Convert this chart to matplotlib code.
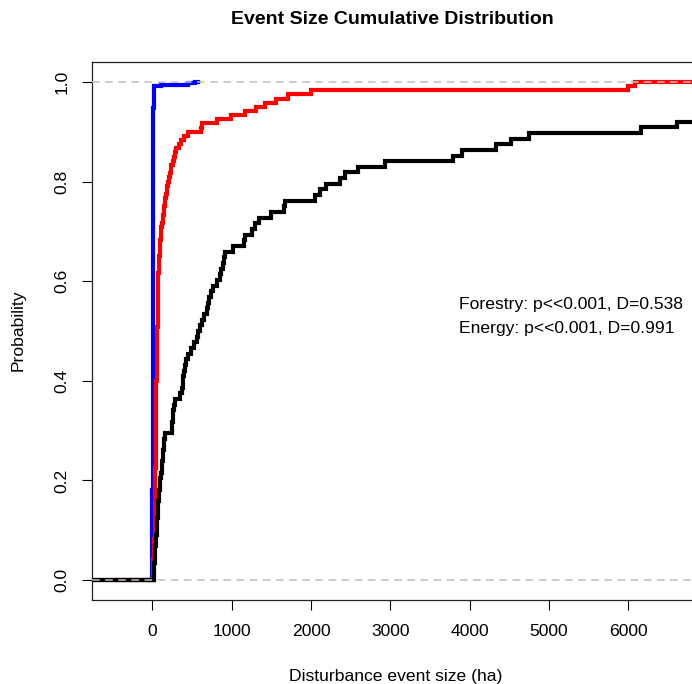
import numpy as np
import matplotlib
matplotlib.use("Agg")
import matplotlib.pyplot as plt

# ---------------- data (event sizes, ha) ----------------
# reference (natural) disturbance events
natural_sizes = [18, 20, 24, 28, 33, 38, 44, 50, 55, 60,
                 64, 68, 72, 77, 82, 88, 95, 102, 110,
                 117, 124, 131, 138, 145, 152, 158,
                 245, 252, 258, 265, 275, 285, 345, 370,
                 380, 390, 400, 410, 430, 455, 490, 530, 560, 580,
                 600, 625, 650, 690, 705, 720, 740, 770, 820, 850,
                 870, 890, 905, 915, 1015, 1150, 1165, 1250, 1300, 1345,
                 1500, 1660, 1675, 2047, 2110, 2194, 2362, 2425, 2594, 2930,
                 3792, 3909, 4338, 4518, 4750, 6154, 6612,
                 7400, 8100, 9300, 11000, 14500, 21000, 38000]

# forestry events
forestry_sizes = [2, 4, 6, 8,
                  12, 15, 18, 20, 22, 25,
                  27, 28, 29, 30, 31, 32, 33, 34, 35, 35, 36, 37, 37, 38,
                  38, 39, 39, 40, 40, 41, 41, 41, 42, 42, 42, 43,
                  44, 45, 46, 47, 48, 48, 49, 50, 50, 51, 51, 52,
                  53, 54, 55, 56, 57, 58, 59, 60, 61, 62, 63,
                  64, 64, 65, 65, 66, 66, 67, 67, 68, 69, 69, 70, 71,
                  74, 77, 80, 83, 85, 88, 90, 92,
                  96, 100, 104, 108, 113,
                  120, 128, 135, 142, 150, 156,
                  165, 172, 180, 190, 198,
                  210, 222, 235, 240,
                  255, 270, 285, 303,
                  330, 366, 400, 450, 612, 620,
                  818, 996, 1164, 1311, 1416, 1564, 1711, 2005, 5990, 6090]

# energy events (value, count)
energy_sizes = [1, 2, 4, 6, 9, 12, 15, 110, 450, 535]
energy_counts = [60, 70, 60, 50, 40, 34, 14, 1, 1, 1]

x_ticks = [0, 1000, 2000, 3000, 4000, 5000, 6000]
y_ticks = [0.0, 0.2, 0.4, 0.6, 0.8, 1.0]
annot_lines = ["Forestry: p<<0.001, D=0.538", "Energy: p<<0.001, D=0.991"]

title = "Event Size Cumulative Distribution"
xlabel = "Disturbance event size (ha)"
ylabel = "Probability"

# ---------------- plotting ----------------
plt.rcParams['font.family'] = ['Liberation Sans', 'DejaVu Sans']

W, H, DPI = 692, 684, 100
fig = plt.figure(figsize=(W / DPI, H / DPI), dpi=DPI)
ax = fig.add_axes([92 / W, (H - 600) / H, 600 / W, 538 / H])

XMIN, XMAX = -761, 6803
YMIN, YMAX = -0.04, 1.04


def ecdf_xy(values, extend_right=None):
    v = np.sort(np.asarray(values, dtype=float))
    n = len(v)
    knots = np.unique(v)
    cum = np.searchsorted(v, knots, side='right') / n
    dr = max(0.08 * (knots[-1] - knots[0]), np.median(np.diff(knots)))
    right = knots[-1] + dr if extend_right is None else extend_right
    xs = np.concatenate([[knots[0] - dr], knots, [right]])
    ys = np.concatenate([[0.0], cum, [1.0]])
    return xs, ys


energy_values = np.repeat(energy_sizes, energy_counts)

lw = 3.0
for vals, col, ext in [(energy_values, 'blue', None),
                       (forestry_sizes, 'red', XMAX + 500),
                       (natural_sizes, 'black', None)]:
    xs, ys = ecdf_xy(vals, ext)
    ax.step(xs, ys, where='post', color=col, lw=lw, solid_joinstyle='miter',
            zorder=3)

# natural curve extends to the left edge
ax.plot([XMIN - 100, min(natural_sizes)], [0, 0], color='black', lw=lw, zorder=3)

for yv in (0, 1):
    ax.axhline(yv, color='#BEBEBE', lw=1.1, linestyle=(0, (5, 3.6)), zorder=4)

ax.set_xlim(XMIN, XMAX)
ax.set_ylim(YMIN, YMAX)

fs = 12.6
ax.set_xticks(x_ticks)
ax.set_xticklabels([str(t) for t in x_ticks], fontsize=fs)
ax.set_yticks(y_ticks)
ax.set_yticklabels([f"{t:.1f}" for t in y_ticks], fontsize=fs, rotation=90,
                   va='center')
ax.tick_params(axis='both', direction='out', length=7, width=0.8)
ax.tick_params(axis='x', pad=10)
ax.tick_params(axis='y', pad=9)

for side in ('left', 'bottom', 'top'):
    ax.spines[side].set_linewidth(0.9)
    ax.spines[side].set_color('#222222')
ax.spines['right'].set_visible(False)

fig.text(18 / W, 1 - 330 / H, ylabel, rotation=90, ha='center', va='center',
         fontsize=fs)
fig.text(396 / W, 1 - 676 / H, xlabel, ha='center', va='center', fontsize=fs)
fig.text(392 / W, 1 - 20 / H, title, ha='center', va='center', fontsize=14,
         fontweight='bold')

ax.text(3866, 0.554, annot_lines[0], ha='left', va='center', fontsize=fs)
ax.text(3866, 0.506, annot_lines[1], ha='left', va='center', fontsize=fs)

fig.savefig('out.png', dpi=DPI)
